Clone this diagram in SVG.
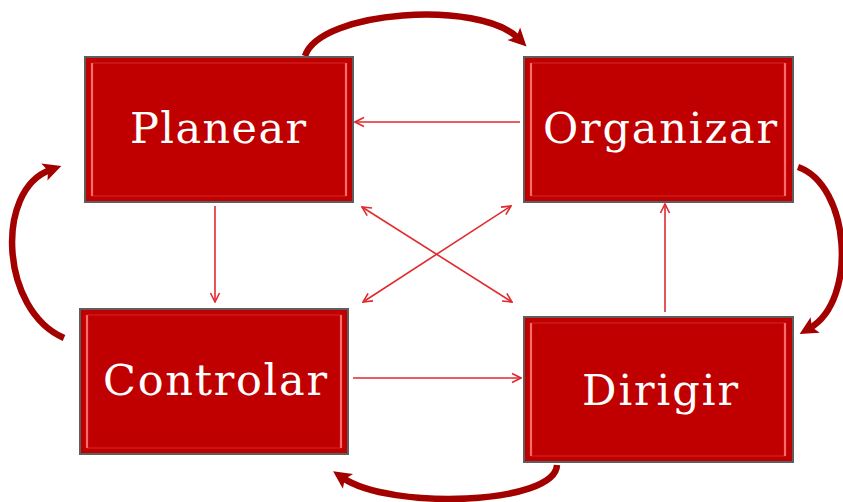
<svg xmlns="http://www.w3.org/2000/svg" width="843" height="502" viewBox="0 0 843 502">
  <style>
    .box { fill: #c00000; stroke: #5e5e5e; stroke-width: 2; }
    .side { stroke: #ff6b6b; stroke-width: 2.2; }
    .edge { stroke: #e24545; stroke-width: 1.2; opacity: 0.6; }
    .label { fill: #ffffff; font-family: "DejaVu Serif", "Liberation Serif", serif; font-size: 43px; text-anchor: middle; }
    .thin { fill: none; stroke: #e02a2e; stroke-width: 1.6; marker-end: url(#open); }
    .both { marker-start: url(#openStart); }
    .cycle { fill: none; stroke: #a30000; stroke-width: 6.5; stroke-linecap: butt; marker-end: url(#bold); }
  </style>
  <defs>
    <marker id="open" viewBox="0 0 12 12" refX="11" refY="6" markerWidth="12" markerHeight="12" markerUnits="userSpaceOnUse" orient="auto">
      <polyline points="2,1.5 11,6 2,10.5" fill="none" stroke="#e02a2e" stroke-width="1.6"/>
    </marker>
    <marker id="openStart" viewBox="0 0 12 12" refX="11" refY="6" markerWidth="12" markerHeight="12" markerUnits="userSpaceOnUse" orient="auto-start-reverse">
      <polyline points="2,1.5 11,6 2,10.5" fill="none" stroke="#e02a2e" stroke-width="1.6"/>
    </marker>
    <marker id="bold" viewBox="0 0 20 20" refX="6" refY="10" markerWidth="20" markerHeight="20" markerUnits="userSpaceOnUse" orient="auto">
      <polygon points="0,1 18,10 0,19 4,10" fill="#a30000"/>
    </marker>
    <!-- bevelled box face: light vertical sides, faint top and bottom edges -->
    <g id="bevel">
      <line class="side" x1="7" y1="6" x2="7" y2="139"/>
      <line class="side" x1="261" y1="6" x2="261" y2="139"/>
      <line class="edge" x1="7" y1="6" x2="261" y2="6"/>
      <line class="edge" x1="7" y1="139" x2="261" y2="139"/>
    </g>
  </defs>

  <!-- connectors -->
  <g id="connectors">
    <!-- thick cycle arcs -->
    <path class="cycle" d="M305,56 C320,10 480,0 518,38"/>
    <path class="cycle" d="M798,167 C850,185 858,300 810,328"/>
    <path class="cycle" d="M557,465 C555,505 390,510 343,478"/>
    <path class="cycle" d="M64,338 C0,310 -5,190 50,170"/>
    <!-- thin links -->
    <path class="thin" d="M520,122 L355,122"/>
    <path class="thin" d="M215,206 L215,302"/>
    <path class="thin" d="M353,378 L521,378"/>
    <path class="thin" d="M665,312 L665,204"/>
    <path class="thin both" d="M362,207 L512,302"/>
    <path class="thin both" d="M363,302 L511,206"/>
  </g>

  <g id="planear">
    <rect class="box" x="85" y="57" width="268" height="145"/>
    <use href="#bevel" x="85" y="57"/>
    <text class="label" x="218" y="143" textLength="176" lengthAdjust="spacing">Planear</text>
  </g>

  <g id="organizar">
    <rect class="box" x="524" y="57" width="269" height="145"/>
    <use href="#bevel" x="524" y="57"/>
    <text class="label" x="660" y="143" textLength="234" lengthAdjust="spacing">Organizar</text>
  </g>

  <g id="controlar">
    <rect class="box" x="80" y="309" width="268" height="145"/>
    <use href="#bevel" x="80" y="309"/>
    <text class="label" x="215" y="395" textLength="224" lengthAdjust="spacing">Controlar</text>
  </g>

  <g id="dirigir">
    <rect class="box" x="524" y="317" width="269" height="145"/>
    <use href="#bevel" x="524" y="317"/>
    <text class="label" x="660" y="405" textLength="156" lengthAdjust="spacing">Dirigir</text>
  </g>
</svg>
